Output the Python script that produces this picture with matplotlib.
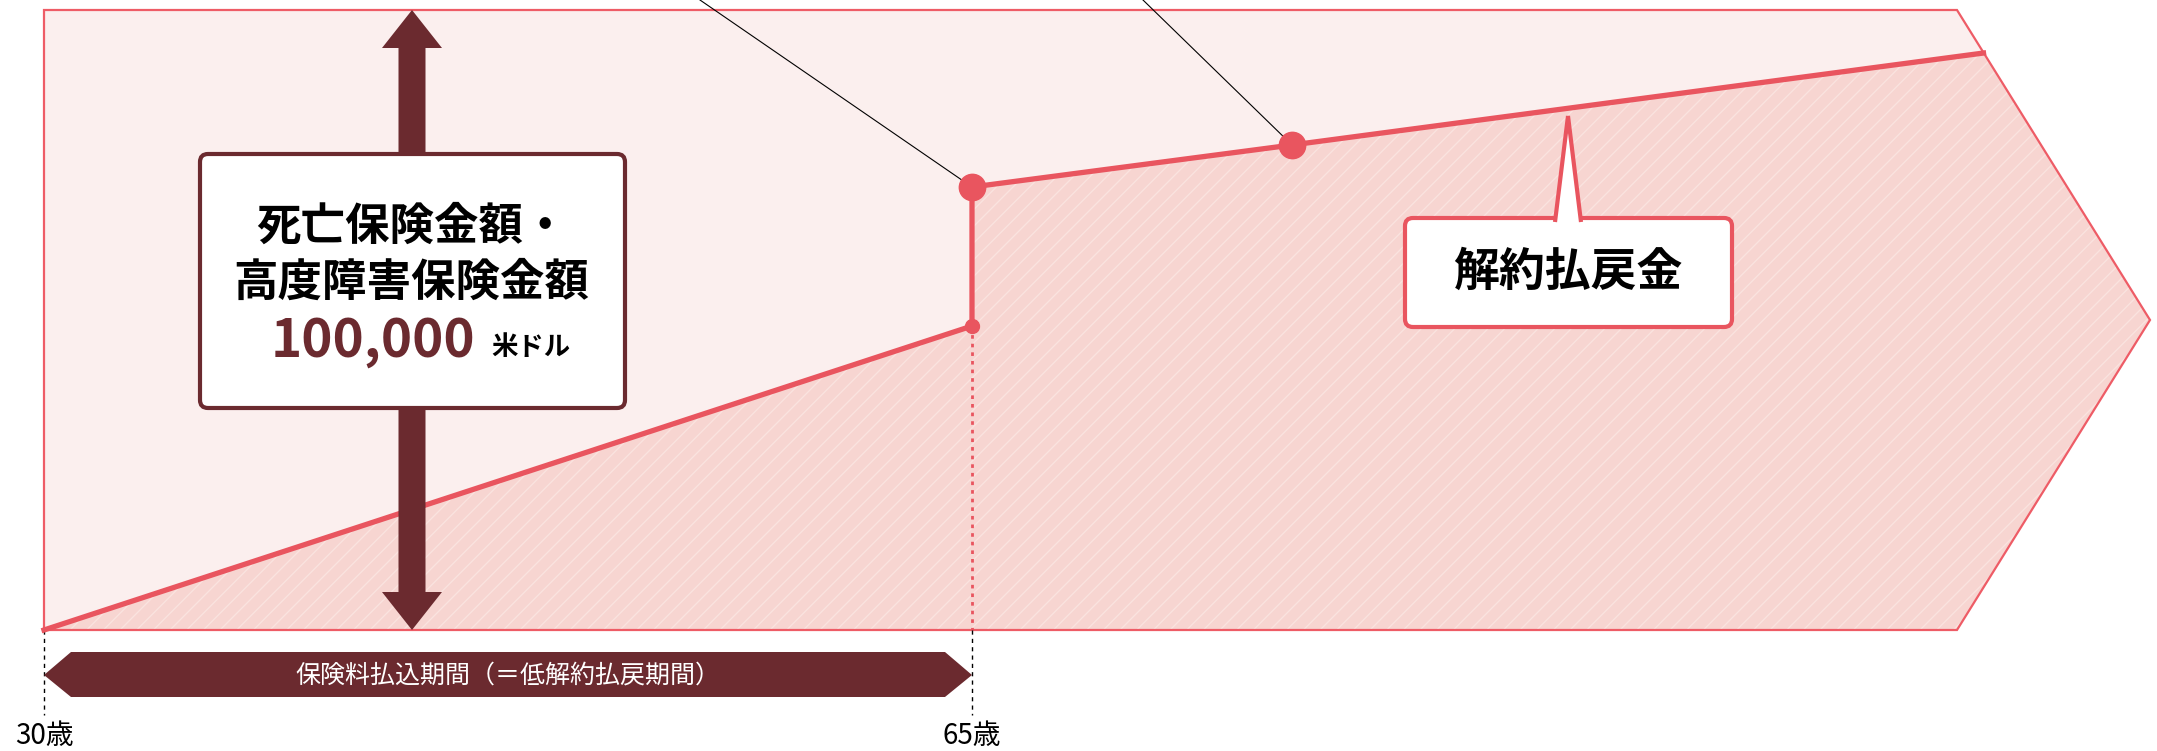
import matplotlib.pyplot as plt
from matplotlib.patches import Polygon, FancyBboxPatch

plt.rcParams['font.family'] = ['Noto Sans CJK JP', 'DejaVu Sans']
plt.rcParams['hatch.linewidth'] = 1.0

# ---- data ----
start_age = 30
pay_end_age = 65
shape_end_age = 102.15     # outer arrow shape starts to narrow
tip_age = 109.43
death_benefit = 100000
cv_ages = [30, 65, 65, 77.07, 103.15]
cv_values = [0, 49030, 71450, 78230, 93060]
age_labels = ['30歳', '65歳']
label_ages = [start_age, pay_end_age]

RED = '#E9555F'
EDGE = '#EE5C66'
LIGHT = '#FBEFEE'
HATCH_BG = '#F7D5D1'
MAROON = '#6B2A2F'

# pixel <-> data helpers for the layout (2157 x 751 canvas)
PX_PER_YEAR = 26.514
PX_PER_DOLLAR = 0.0062
X0, Y0 = 44, 630


def X(px):
    return start_age + (px - X0) / PX_PER_YEAR


def Y(py):
    return (Y0 - py) / PX_PER_DOLLAR


fig = plt.figure(figsize=(21.57, 7.51), dpi=100)
ax = fig.add_axes([0, 0, 1, 1])
ax.set_xlim(X(0), X(2157))
ax.set_ylim(Y(751), Y(0))
ax.axis('off')

# outer shape (death benefit)
outer = [(start_age, death_benefit), (shape_end_age, death_benefit),
         (tip_age, death_benefit / 2), (shape_end_age, 0), (start_age, 0)]
ax.add_patch(Polygon(outer, closed=True, facecolor=LIGHT, edgecolor='none', zorder=1))

# surrender value area
area = list(zip(cv_ages, cv_values)) + [(tip_age, death_benefit / 2), (shape_end_age, 0)]
ax.add_patch(Polygon(area, closed=True, facecolor=HATCH_BG, edgecolor='none', zorder=2))
ax.add_patch(Polygon(area, closed=True, facecolor='none', edgecolor='#FAE3DF',
                     lw=0, hatch='//', zorder=2.5))
ax.add_patch(Polygon(outer, closed=True, facecolor='none', edgecolor=EDGE, lw=1.6, zorder=3))

# dotted drop at 65
ax.plot([pay_end_age, pay_end_age], [cv_values[1], 0], color=RED, lw=2.0,
        linestyle=(0, (1.3, 1.8)), dash_capstyle='butt', zorder=3)

# leader lines (labels sit above the crop)
ax.plot([cv_ages[2], X(700)], [cv_values[2], Y(0)], color='black', lw=0.8, zorder=3)
ax.plot([cv_ages[3], X(1143)], [cv_values[3], Y(0)], color='black', lw=0.8, zorder=3)

# surrender value line
ax.plot(cv_ages, cv_values, color=RED, lw=3.8, solid_joinstyle='round', zorder=4)
ax.plot([cv_ages[2], cv_ages[3]], [cv_values[2], cv_values[3]], 'o', color=RED, ms=19, zorder=5)
ax.plot([cv_ages[1]], [cv_values[1]], 'o', color=RED, ms=10, zorder=5)

# age guide lines + labels
for a, lab in zip(label_ages, age_labels):
    ax.plot([a, a], [0, Y(715)], color='black', lw=1.0, linestyle=(0, (3, 3)), zorder=3)
    ax.text(a, Y(736), lab, ha='center', va='center', fontsize=20, color='black')

# double arrow for death benefit
xc = X(412)
hs, hh = 13.5 / PX_PER_YEAR, 30 / PX_PER_YEAR
hl = 38 / PX_PER_DOLLAR
arrow = [(xc, death_benefit), (xc + hh, death_benefit - hl), (xc + hs, death_benefit - hl),
         (xc + hs, hl), (xc + hh, hl), (xc, 0), (xc - hh, hl), (xc - hs, hl),
         (xc - hs, death_benefit - hl), (xc - hh, death_benefit - hl)]
ax.add_patch(Polygon(arrow, closed=True, facecolor=MAROON, edgecolor='none', zorder=6))

aspect = (1 / PX_PER_DOLLAR) / (1 / PX_PER_YEAR)

# death benefit box
ax.add_patch(FancyBboxPatch((X(200), Y(408)), X(625) - X(200), Y(154) - Y(408),
                            boxstyle='round,pad=0,rounding_size=%f' % (8 / PX_PER_YEAR),
                            mutation_aspect=aspect, facecolor='white', edgecolor=MAROON,
                            lw=3.0, zorder=7))
ax.text(X(412), Y(227), '死亡保険金額・', ha='center', va='center', fontsize=32,
        fontweight='bold', color='black', zorder=8)
ax.text(X(411), Y(283), '高度障害保険金額', ha='center', va='center', fontsize=32,
        fontweight='bold', color='black', zorder=8)
ax.text(X(271), Y(357), '100,000', ha='left', va='baseline', fontsize=38,
        fontweight='bold', color=MAROON, zorder=8)
ax.text(X(491), Y(355), '米ドル', ha='left', va='baseline', fontsize=19,
        fontweight='bold', color='black', zorder=8)

# surrender value callout
ax.add_patch(FancyBboxPatch((X(1405), Y(327)), X(1732) - X(1405), Y(218) - Y(327),
                            boxstyle='round,pad=0,rounding_size=%f' % (8 / PX_PER_YEAR),
                            mutation_aspect=aspect, facecolor='white', edgecolor=RED,
                            lw=3.0, zorder=7))
ax.add_patch(Polygon([(X(1555), Y(222)), (X(1568), Y(116)), (X(1581), Y(222))],
                     closed=False, facecolor='white', edgecolor=RED, lw=3.0,
                     joinstyle='miter', zorder=7.5))
ax.text(X(1568), Y(273), '解約払戻金', ha='center', va='center', fontsize=33,
        fontweight='bold', color='black', zorder=8)

# premium payment period banner
indent = 27 / PX_PER_YEAR
banner = [(start_age, Y(675)), (start_age + indent, Y(652)), (pay_end_age - indent, Y(652)),
          (pay_end_age, Y(675)), (pay_end_age - indent, Y(697)), (start_age + indent, Y(697))]
ax.add_patch(Polygon(banner, closed=True, facecolor=MAROON, edgecolor='none', zorder=6))
ax.text((start_age + pay_end_age) / 2, Y(676), '保険料払込期間（＝低解約払戻期間）',
        ha='center', va='center', fontsize=18, color='white', zorder=8)

fig.savefig('out.png', dpi=100)
